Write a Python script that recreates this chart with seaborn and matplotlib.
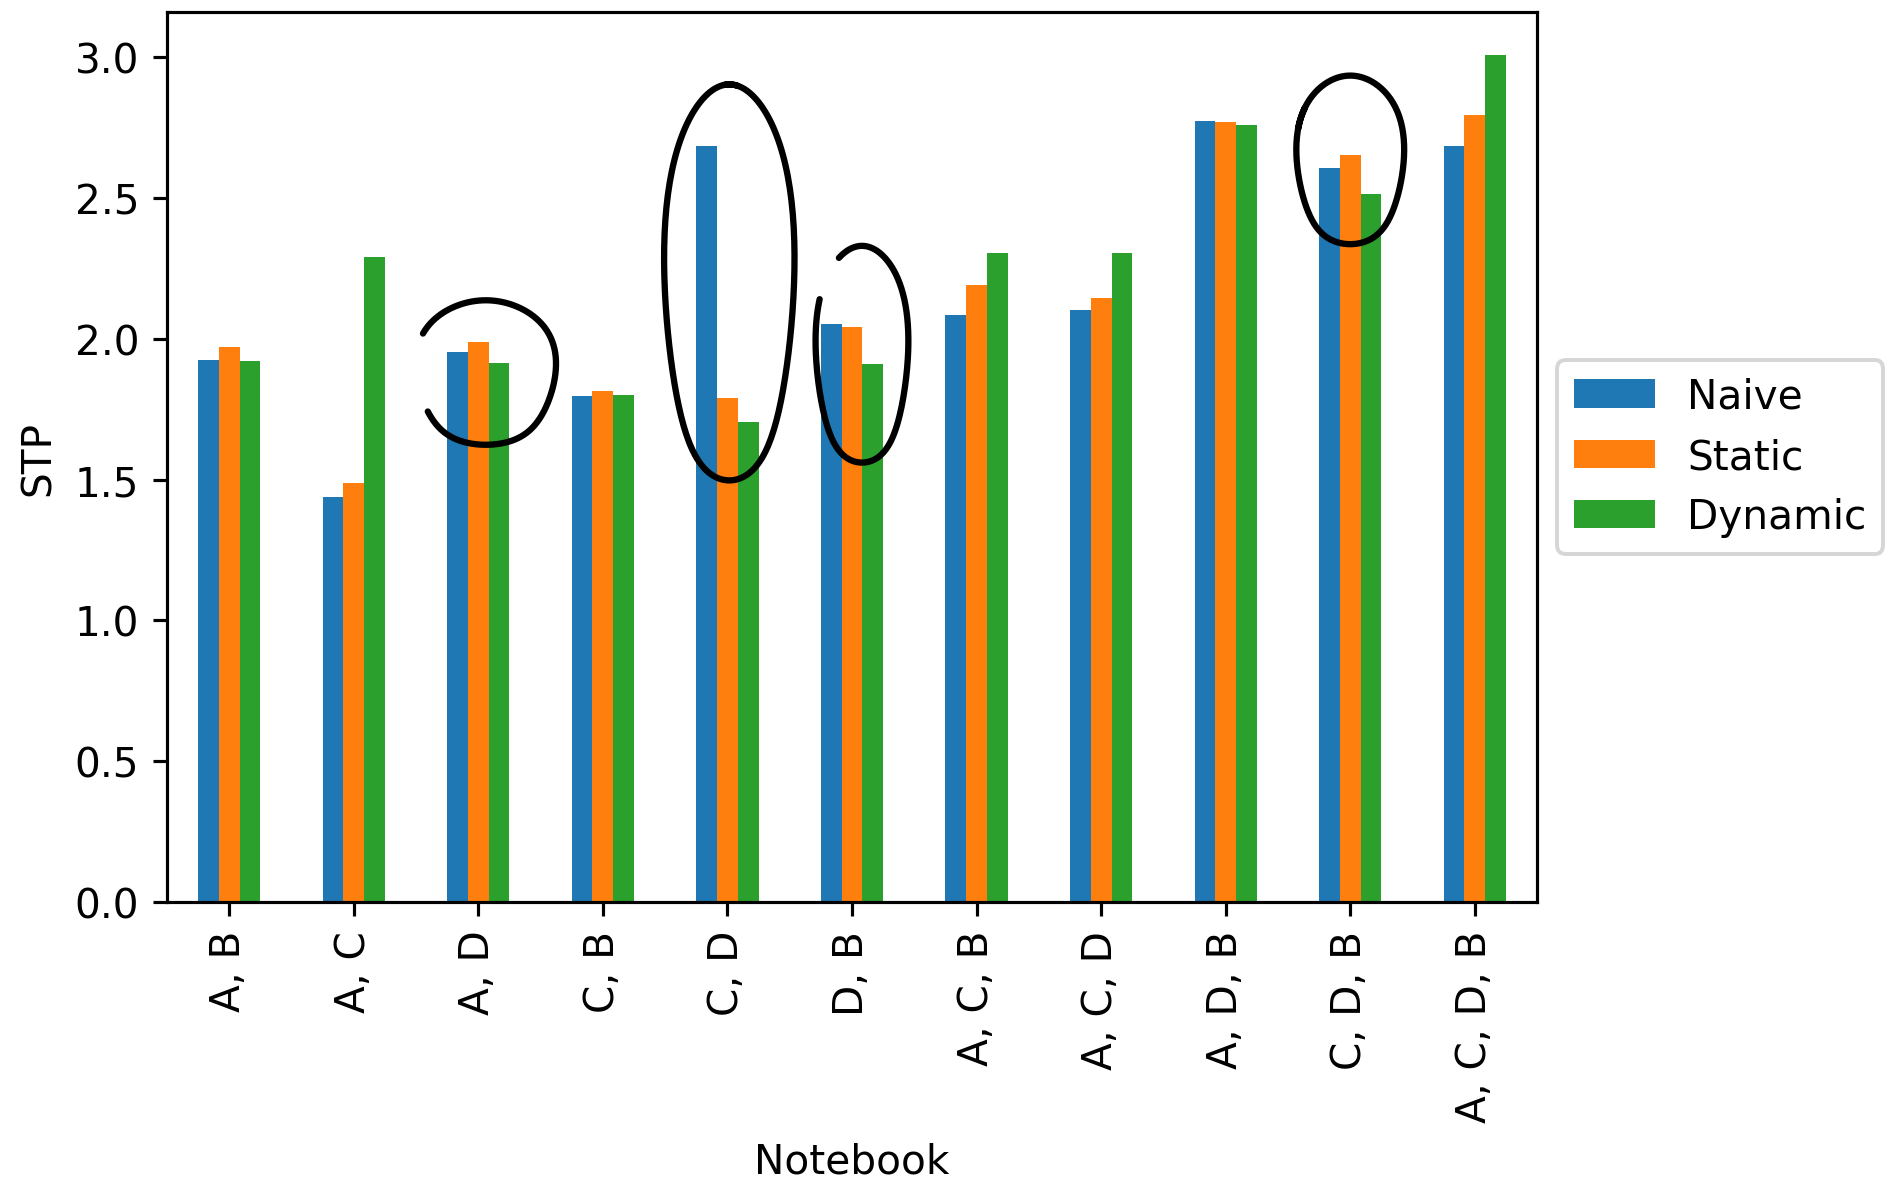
import numpy as np
import pandas as pd
import matplotlib
matplotlib.use("Agg")
import matplotlib.pyplot as plt
import seaborn as sns

plt.rcParams["font.size"] = 10.3

# Notebook combinations on the x axis
notebooks = ["A, B", "A, C", "A, D", "C, B", "C, D", "D, B",
             "A, C, B", "A, C, D", "A, D, B", "C, D, B", "A, C, D, B"]

# STP per scheduling strategy
naive   = [1.924, 1.438, 1.953, 1.796, 2.685, 2.051, 2.086, 2.103, 2.773, 2.606, 2.685]
static  = [1.971, 1.487, 1.987, 1.814, 1.789, 2.040, 2.191, 2.146, 2.769, 2.654, 2.794]
dynamic = [1.920, 2.289, 1.914, 1.799, 1.705, 1.911, 2.306, 2.304, 2.760, 2.514, 3.009]

methods = ["Naive", "Static", "Dynamic"]
colors = ["#1f77b4", "#ff7f0e", "#2ca02c"]

# Groups marked with a freehand loop:
# (notebook, x offset, half width, y low, y high, start angle, sweep in degrees)
highlights = [
    ("A, D", 0.06, 0.56, 1.61, 2.15, 150, -300),
    ("C, D", 0.015, 0.52, 1.46, 2.94, 95, -372),
    ("D, B", 0.08, 0.37, 1.54, 2.35, 120, -328),
    ("C, D, B", 0.0, 0.43, 2.32, 2.95, 160, -375),
]

df = pd.DataFrame({
    "Notebook": notebooks * 3,
    "STP": naive + static + dynamic,
    "Method": [m for m in methods for _ in notebooks],
})

fig = plt.figure(figsize=(1886 / 284, 1182 / 284), dpi=284)
ax = fig.add_axes([0.0885, 0.236, 0.815 - 0.0885, 0.989 - 0.236])

sns.barplot(data=df, x="Notebook", y="STP", hue="Method", order=notebooks,
            hue_order=methods, palette=colors, width=0.5, saturation=1,
            errorbar=None, linewidth=0, ax=ax)

ax.set_xlim(-0.5, len(notebooks) - 0.5)
ax.set_ylim(0, 3.16)
ax.set_yticks(np.arange(0, 3.01, 0.5))
ax.tick_params(axis="x", rotation=90)
ax.set_xlabel("Notebook", labelpad=5)
ax.set_ylabel("STP")

sns.move_legend(ax, "center left", bbox_to_anchor=(1.0, 0.5), title=None, frameon=True)

# Freehand-style loops around the highlighted groups
for name, dx, hw, ylo, yhi, start, sweep in highlights:
    i = notebooks.index(name)
    cx, cy = i + dx, (ylo + yhi) / 2
    hh = (yhi - ylo) / 2
    t = np.radians(np.linspace(start, start + sweep, 200))
    wobble = 1 + 0.04 * np.sin(3 * t)
    xs = cx + hw * np.cos(t) * wobble
    ys = cy + hh * np.sin(t) * (1 + 0.05 * np.cos(2 * t))
    ax.plot(xs, ys, color="black", lw=1.6, solid_capstyle="round", clip_on=False)

fig.savefig("out.png", dpi=284)
